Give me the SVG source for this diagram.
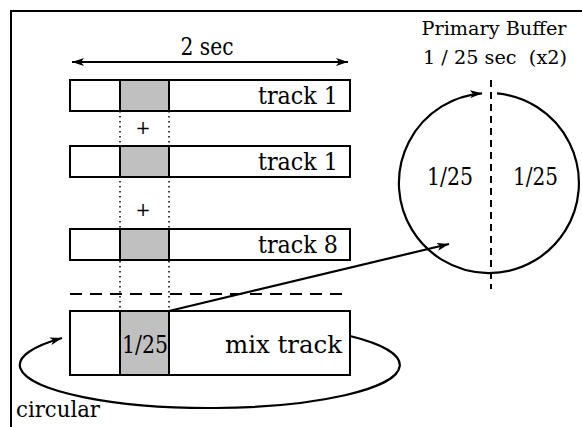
<svg xmlns="http://www.w3.org/2000/svg" width="582" height="427" viewBox="0 0 582 427">
<style>
text{font-family:"DejaVu Serif","Liberation Serif",serif;fill:#000}
.trk{fill:#fff;stroke:#000;stroke-width:2}
.gray{fill:#c0c0c0;stroke:#000;stroke-width:2}
.ln{fill:none;stroke:#000;stroke-width:2.2}
.dot{stroke:#000;stroke-width:1.5;stroke-dasharray:1.5 3.5}
</style>
<defs>
<marker id="ah" viewBox="0 0 12 8" refX="12" refY="4" markerWidth="12" markerHeight="8" markerUnits="userSpaceOnUse" orient="auto-start-reverse">
<path d="M0,0 L12,4 L0,8 L3,4 Z" fill="#000"/>
</marker>
</defs>
<rect x="0" y="0" width="582" height="427" fill="#fff"/>
<path d="M11,440 V11 H590" fill="none" stroke="#000" stroke-width="2"/>

<g id="dim">
<line x1="72" y1="62" x2="348" y2="62" class="ln" marker-start="url(#ah)" marker-end="url(#ah)"/>
<text x="207" y="55" font-size="25" text-anchor="middle" textLength="53" lengthAdjust="spacingAndGlyphs">2 sec</text>
</g>

<g id="dotted">
<line x1="120" y1="111" x2="120" y2="311" class="dot"/>
<line x1="169" y1="111" x2="169" y2="311" class="dot"/>
<text x="143" y="134" font-size="18" text-anchor="middle">+</text>
<text x="143" y="216" font-size="18" text-anchor="middle">+</text>
</g>

<g id="track1a">
<rect x="70" y="80" width="280" height="31" class="trk"/>
<rect x="120" y="80" width="49" height="31" class="gray"/>
<text x="258" y="104" font-size="24" textLength="80" lengthAdjust="spacingAndGlyphs">track 1</text>
</g>
<g id="track1b">
<rect x="70" y="146" width="280" height="31" class="trk"/>
<rect x="120" y="146" width="49" height="31" class="gray"/>
<text x="258" y="170" font-size="24" textLength="80" lengthAdjust="spacingAndGlyphs">track 1</text>
</g>
<g id="track8">
<rect x="70" y="229" width="280" height="31" class="trk"/>
<rect x="120" y="229" width="49" height="31" class="gray"/>
<text x="258" y="253" font-size="24" textLength="80" lengthAdjust="spacingAndGlyphs">track 8</text>
</g>

<line x1="70" y1="294" x2="350" y2="294" stroke="#000" stroke-width="2" stroke-dasharray="12 8"/>

<g id="mixtrack">
<rect x="70" y="311" width="280" height="64" class="trk"/>
<rect x="120" y="311" width="49" height="64" class="gray"/>
<text x="122" y="353" font-size="24" textLength="46" lengthAdjust="spacingAndGlyphs">1/25</text>
<text x="225" y="353" font-size="24" textLength="117" lengthAdjust="spacingAndGlyphs">mix track</text>
</g>

<g id="buffer">
<text x="494" y="35" font-size="19" text-anchor="middle" textLength="145" lengthAdjust="spacingAndGlyphs">Primary Buffer</text>
<text x="495" y="64" font-size="19" text-anchor="middle" textLength="144" lengthAdjust="spacingAndGlyphs" xml:space="preserve">1 / 25 sec  (x2)</text>
<line x1="491" y1="80" x2="491" y2="289" stroke="#000" stroke-width="2" stroke-dasharray="7 5"/>
<text x="427" y="185" font-size="24" textLength="46" lengthAdjust="spacingAndGlyphs">1/25</text>
<text x="513" y="185" font-size="24" textLength="45" lengthAdjust="spacingAndGlyphs">1/25</text>
</g>

<g id="connectors">
<path d="M497,93.4 A90,90 0 1 1 482,93.3" class="ln" marker-end="url(#ah)"/>
<line x1="169" y1="311" x2="449" y2="244" class="ln" marker-end="url(#ah)"/>
<path d="M350,336 A190,43 0 1 1 62,338" class="ln" marker-end="url(#ah)"/>
</g>

<text x="16" y="417" font-size="23" textLength="84" lengthAdjust="spacingAndGlyphs">circular</text>
</svg>
